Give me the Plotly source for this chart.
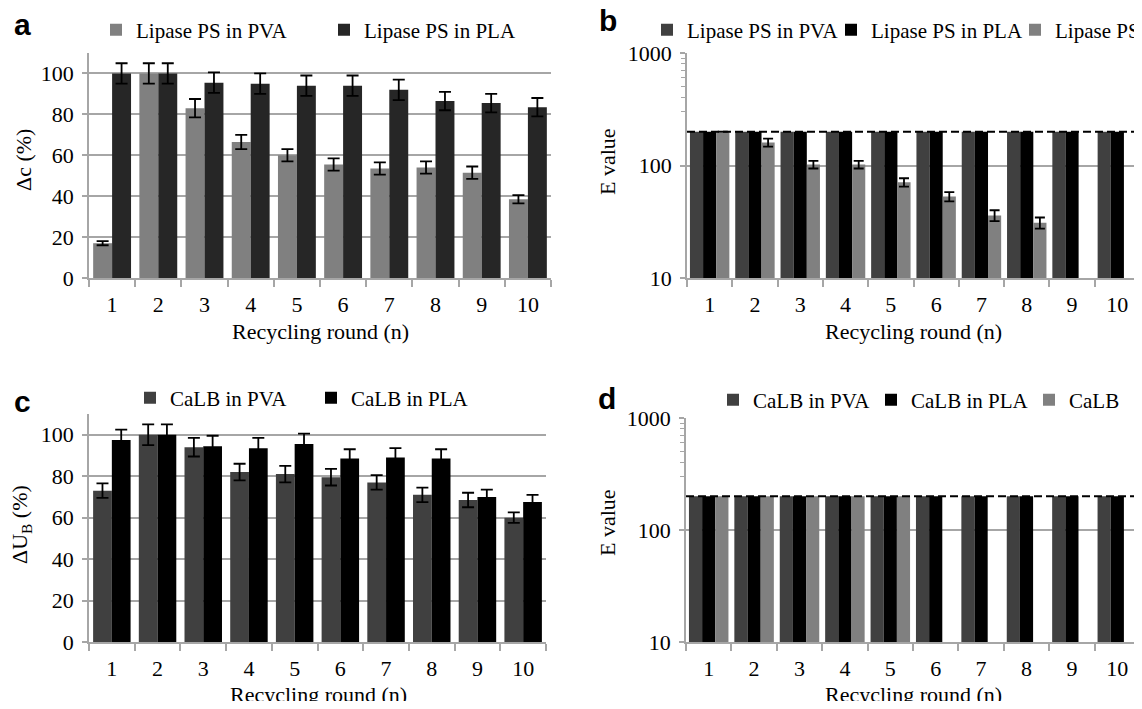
import plotly.graph_objects as go

rounds = ["1", "2", "3", "4", "5", "6", "7", "8", "9", "10"]

# Panel a: conversion (%) of Lipase PS
a_pva = [17, 100, 83, 66.5, 60, 55.5, 53.5, 54, 51.5, 38.5]
a_pva_err = [1, 5, 4.5, 3.5, 3, 3, 3, 3, 3, 2]
a_pla = [100, 100, 95.5, 95, 94, 94, 92, 86.5, 85.5, 83.5]
a_pla_err = [5, 5, 5, 5, 5, 5, 5, 4.5, 4.5, 4.5]

# Panel b: E value Lipase PS
b_pva = [200, 200, 200, 200, 200, 200, 200, 200, 200, 200]
b_pla = [200, 200, 200, 200, 200, 200, 200, 200, 200, 200]
b_free = [200, 160, 102, 102, 71, 53, 36, 31, None, None]
b_free_err = [None, 13, 8, 8, 6, 5, 4, 3.5, None, None]

# Panel c: conversion (%) of CaLB
c_pva = [73, 100, 94, 82, 81, 79.5, 77, 71, 68.5, 60]
c_pva_err = [3.5, 5, 4.5, 4, 4, 4, 3.5, 3.5, 3.5, 2.5]
c_pla = [97.5, 100, 94.5, 93.5, 95.5, 88.5, 89, 88.5, 70, 67.5]
c_pla_err = [5, 5, 5, 5, 5, 4.5, 4.5, 4.5, 3.5, 3.5]

# Panel d: E value CaLB
d_pva = [200, 200, 200, 200, 200, 200, 200, 200, 200, 200]
d_pla = [200, 200, 200, 200, 200, 200, 200, 200, 200, 200]
d_free = [200, 200, 200, 200, 200, None, None, None, None, None]

e_limit = 200

# page body has an 8px margin: figure sized so page is exactly 1142x709
OFF = 8
W, H = 1142 - 2 * OFF, 709 - 2 * OFF
SERIF = "Liberation Serif"
GRID = "#a6a6a6"

def px(x):
    return (x - OFF) / W

def py(y):
    return 1 - (y - OFF) / H

fig = go.Figure()

def bar(x, y, color, name, xa, ya, leg, width, offset, err=None, ew=6):
    kw = {}
    if err is not None:
        kw["error_y"] = dict(type="data", array=err, symmetric=True,
                             color="black", thickness=1.8, width=ew)
    fig.add_trace(go.Bar(x=x, y=y, name=name, marker=dict(color=color, line=dict(width=0)),
                         xaxis=xa, yaxis=ya, legend=leg, width=width, offset=offset, **kw))

# panel a
bar(rounds, a_pva, "#808080", "Lipase PS in PVA", "x", "y", "legend", 0.41, -0.41, a_pva_err)
bar(rounds, a_pla, "#262626", "Lipase PS in PLA", "x", "y", "legend", 0.41, 0.0, a_pla_err)
# panel b
bar(rounds, b_pva, "#404040", "Lipase PS in PVA", "x2", "y2", "legend2", 0.29, -0.435)
bar(rounds, b_pla, "#000000", "Lipase PS in PLA", "x2", "y2", "legend2", 0.29, -0.145)
bar(rounds, b_free, "#808080", "Lipase PS", "x2", "y2", "legend2", 0.29, 0.145, b_free_err, 5)
# panel c
bar(rounds, c_pva, "#404040", "CaLB in PVA", "x3", "y3", "legend3", 0.41, -0.41, c_pva_err)
bar(rounds, c_pla, "#000000", "CaLB in PLA", "x3", "y3", "legend3", 0.41, 0.0, c_pla_err)
# panel d
bar(rounds, d_pva, "#404040", "CaLB in PVA", "x4", "y4", "legend4", 0.29, -0.435)
bar(rounds, d_pla, "#000000", "CaLB in PLA", "x4", "y4", "legend4", 0.29, -0.145)
bar(rounds, d_free, "#808080", "CaLB", "x4", "y4", "legend4", 0.29, 0.145)

tickfont = dict(family=SERIF, size=22, color="black")

def xaxis(domain, anchor, rng):
    return dict(domain=domain, anchor=anchor, type="category", range=rng,
                showline=True, linecolor=GRID, linewidth=1.5, ticks="outside",
                tickson="boundaries", ticklen=7, tickcolor=GRID, tickwidth=1.5,
                showgrid=False, tickfont=tickfont, ticklabelstandoff=6, tickangle=0,
                fixedrange=True)

def yaxis_lin(domain, anchor):
    return dict(domain=domain, anchor=anchor, range=[0, 110], tickvals=[0, 20, 40, 60, 80, 100],
                showline=True, linecolor=GRID, linewidth=1.5, ticks="outside", ticklen=5,
                tickcolor=GRID, tickwidth=1.5, showgrid=True, gridcolor=GRID, gridwidth=1.5,
                zeroline=False, tickfont=tickfont, ticklabelstandoff=4)

def yaxis_log(domain, anchor):
    return dict(domain=domain, anchor=anchor, type="log", range=[1, 3],
                tickvals=[10, 100, 1000], ticktext=["10", "100", "1000"],
                showline=True, linecolor=GRID, linewidth=1.5, ticks="outside", ticklen=5,
                tickcolor=GRID, tickwidth=1.5, showgrid=True, gridcolor=GRID, gridwidth=1.5,
                zeroline=False, tickfont=tickfont, ticklabelstandoff=4,
                minor=dict(tickmode="array", tickvals=[300, 400, 500, 600, 700, 800, 900],
                           ticks="outside", ticklen=4, tickcolor=GRID, tickwidth=1.2, showgrid=False))

# right panels run slightly past the visible edge in the reference
cat_w = (1140 - 687) / 10.0
right_end = -0.5 + (1134 - 687) / cat_w

dom_a_x = [px(89), px(551)]
dom_b_x = [px(687), 1.0]
dom_c_x = [px(89), px(546)]
dom_d_x = [px(686), 1.0]
dom_top_y = [py(278), py(53)]
dom_c_y = [py(642), py(414)]
dom_d_y = [py(642), py(418)]

legfont = dict(family=SERIF, size=21, color="black")

def legend(x, y, ew):
    return dict(orientation="h", x=px(x), y=py(y), xanchor="left", yanchor="middle",
                entrywidth=ew, entrywidthmode="pixels", font=legfont, itemwidth=30,
                bgcolor="rgba(0,0,0,0)", borderwidth=0, itemclick=False, itemdoubleclick=False)

fig.update_layout(
    width=W, height=H, margin=dict(l=0, r=0, t=0, b=0, autoexpand=False),
    paper_bgcolor="white", plot_bgcolor="white", barmode="group", showlegend=True,
    xaxis=xaxis(dom_a_x, "y", [-0.5, 9.5]), yaxis=yaxis_lin(dom_top_y, "x"),
    xaxis2=xaxis(dom_b_x, "y2", [-0.5, right_end]), yaxis2=yaxis_log(dom_top_y, "x2"),
    xaxis3=xaxis(dom_c_x, "y3", [-0.5, 9.5]), yaxis3=yaxis_lin(dom_c_y, "x3"),
    xaxis4=xaxis(dom_d_x, "y4", [-0.5, right_end]), yaxis4=yaxis_log(dom_d_y, "x4"),
    legend=legend(96, 30, 183),
    legend2=legend(647, 30, 139),
    legend3=legend(130, 398, 136),
    legend4=legend(713, 400, 113),
    font=dict(family=SERIF, color="black"),
)

# dashed E-value limit lines
for xr, yr in (("x2 domain", "y2"), ("x4 domain", "y4")):
    fig.add_shape(type="line", xref=xr, yref=yr, x0=0, x1=1, y0=e_limit, y1=e_limit,
                  line=dict(color="black", width=2, dash="8px,4px"), layer="above")

ann = []
titlefont = dict(family=SERIF, size=22, color="black")
# x titles
for cx, cy in ((320, 332), (913, 332), (318, 694), (913, 694)):
    ann.append(dict(text="Recycling round (n)", x=px(cx), y=py(cy), xref="paper", yref="paper",
                    showarrow=False, xanchor="center", yanchor="middle", font=titlefont))
# y titles
for txt, cx, cy in (("Δc (%)", 23, 160), ("E value", 607, 162),
                    ("ΔU<sub>B</sub> (%)", 21, 525), ("E value", 607, 523)):
    ann.append(dict(text=txt, x=px(cx), y=py(cy), xref="paper", yref="paper", textangle=-90,
                    showarrow=False, xanchor="center", yanchor="middle", font=titlefont))
# panel letters
for txt, cx, cy in (("a", 23, 25), ("b", 608, 21), ("c", 23, 401), ("d", 607, 398)):
    ann.append(dict(text="<b>" + txt + "</b>", x=px(cx), y=py(cy), xref="paper", yref="paper",
                    showarrow=False, xanchor="center", yanchor="middle",
                    font=dict(family="Liberation Sans", size=30, color="black")))
fig.update_layout(annotations=ann)

fig.write_html("out.html")
